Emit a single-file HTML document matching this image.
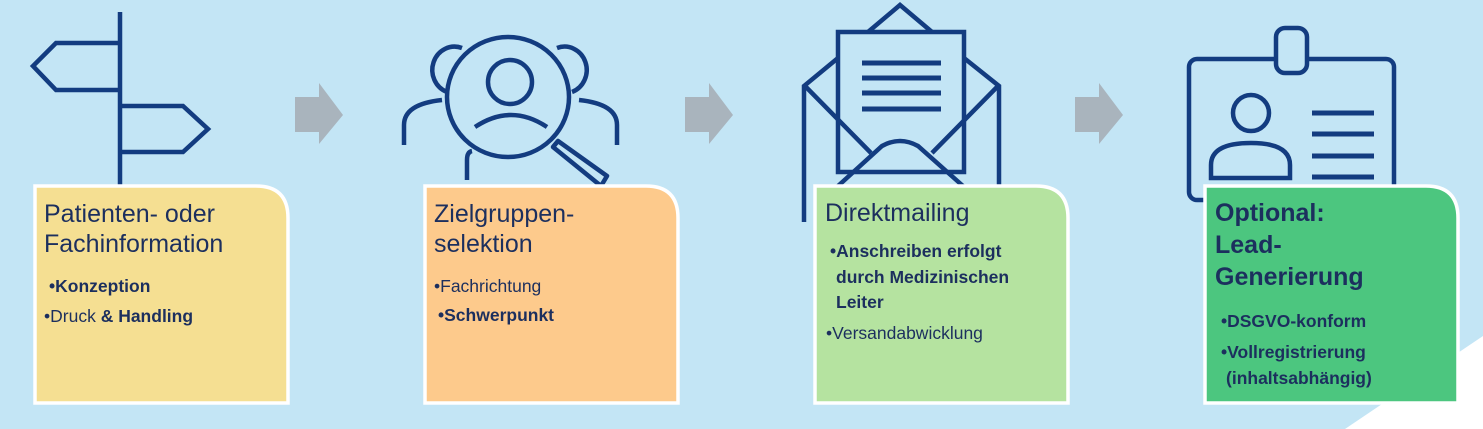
<!DOCTYPE html>
<html><head><meta charset="utf-8"><style>
html,body{margin:0;padding:0;background:#c3e5f5;}
svg{display:block}
text{font-family:"Liberation Sans",sans-serif;fill:#1c2f5e}
.t{font-size:25px}
.b{font-size:17.5px}
.bb{font-size:17.5px;font-weight:bold}
</style></head><body>
<svg width="1483" height="429" viewBox="0 0 1483 429" xmlns="http://www.w3.org/2000/svg">
<rect width="1483" height="429" fill="#c3e5f5"/>
<polygon points="1483,336 1345,429 1483,429" fill="#fff"/>
<!-- arrows -->
<g fill="#a9b4bd">
<polygon points="295,97 319,97 319,83 343,115 319,144 319,132 295,132"/>
<polygon points="685,97 709,97 709,83 733,115 709,144 709,132 685,132"/>
<polygon points="1075,97 1099,97 1099,83 1123,115 1099,144 1099,132 1075,132"/>
</g>
<g fill="none" stroke="#133c80" stroke-width="4.5" stroke-linejoin="miter">
<!-- signpost -->
<line x1="120" y1="12" x2="120" y2="188"/>
<polyline points="120,43 56,43 33,66 56,90 120,90"/>
<polyline points="120,106 183,106 208,129 183,152 120,152"/>
<!-- people + magnifier -->
<ellipse cx="508" cy="97" rx="61" ry="60"/>
<ellipse cx="510" cy="82" rx="22" ry="22"/>
<path d="M475,127 Q511,103 547,127"/>
<path d="M462,48 A19,20 0 1 0 447,92"/>
<path d="M404,145 L404,125 Q404,104 442,100"/>
<path d="M557,48 A19,20 0 1 1 572,92"/>
<path d="M617,145 L617,125 Q617,104 579,100"/>
<path d="M467,180 L467,160 Q467,152 472,151"/>
<path d="M553,147 L558,141 L607,176 L601,186 Z" stroke-linejoin="round"/>
<!-- envelope -->
<rect x="838" y="32" width="126" height="140"/>
<polyline points="868,32 900,5 932,32"/>
<polyline points="838,58 804,86 804,222"/>
<polyline points="964,58 999,86 999,190"/>
<line x1="806" y1="87" x2="871" y2="153"/>
<line x1="997" y1="87" x2="932" y2="153"/>
<path d="M838,186 L882,146 Q900,136 918,146 L963,186"/>
<!-- badge -->
<rect x="1189" y="59" width="205" height="141" rx="8"/>
<rect x="1276" y="28" width="31" height="45" rx="9" fill="#c3e5f5"/>
<ellipse cx="1251" cy="113" rx="18" ry="18"/>
<path d="M1211,178 L1211,165 Q1211,143 1251,143 Q1290,143 1290,165 L1290,178 Z"/>
</g>
<g stroke="#133c80" stroke-width="5">
<line x1="862" y1="63" x2="941" y2="63"/><line x1="862" y1="78" x2="941" y2="78"/>
<line x1="862" y1="93" x2="941" y2="93"/><line x1="862" y1="109" x2="941" y2="109"/>
<line x1="1312" y1="113" x2="1374" y2="113"/><line x1="1312" y1="134" x2="1374" y2="134"/>
<line x1="1312" y1="156" x2="1374" y2="156"/><line x1="1312" y1="177" x2="1374" y2="177"/>
</g>
<!-- boxes -->
<g stroke="#fff" stroke-width="3.5">
<path d="M35,186 H256 Q288,186 288,218 V403 H35 Z" fill="#f5df92"/>
<path d="M425,186 H646 Q678,186 678,218 V403 H425 Z" fill="#fdca8c"/>
<path d="M815,186 H1036 Q1068,186 1068,218 V403 H815 Z" fill="#b5e3a0"/>
<path d="M1205,186 H1426 Q1458,186 1458,218 V403 H1205 Z" fill="#4cc67f"/>
</g>
<text class="t" x="44" y="222">Patienten- oder</text>
<text class="t" x="44" y="252">Fachinformation</text>
<text class="bb" x="49" y="292">•Konzeption</text>
<text class="b" x="44" y="322">•Druck <tspan font-weight="bold">&amp; Handling</tspan></text>

<text class="t" x="434" y="222">Zielgruppen-</text>
<text class="t" x="434" y="252">selektion</text>
<text class="b" x="434" y="292">•Fachrichtung</text>
<text class="bb" x="438" y="321">•Schwerpunkt</text>

<text class="t" x="825" y="221">Direktmailing</text>
<text class="bb" x="830" y="257">•Anschreiben erfolgt</text>
<text class="bb" x="836" y="283">durch Medizinischen</text>
<text class="bb" x="836" y="308">Leiter</text>
<text class="b" x="826" y="339">•Versandabwicklung</text>

<text class="t" x="1215" y="221" font-weight="bold">Optional:</text>
<text class="t" x="1215" y="253" font-weight="bold">Lead-</text>
<text class="t" x="1215" y="285" font-weight="bold">Generierung</text>
<text class="bb" x="1221" y="327">•DSGVO-konform</text>
<text class="bb" x="1221" y="358">•Vollregistrierung</text>
<text class="bb" x="1226" y="384">(inhaltsabhängig)</text>
</svg>
</body></html>
